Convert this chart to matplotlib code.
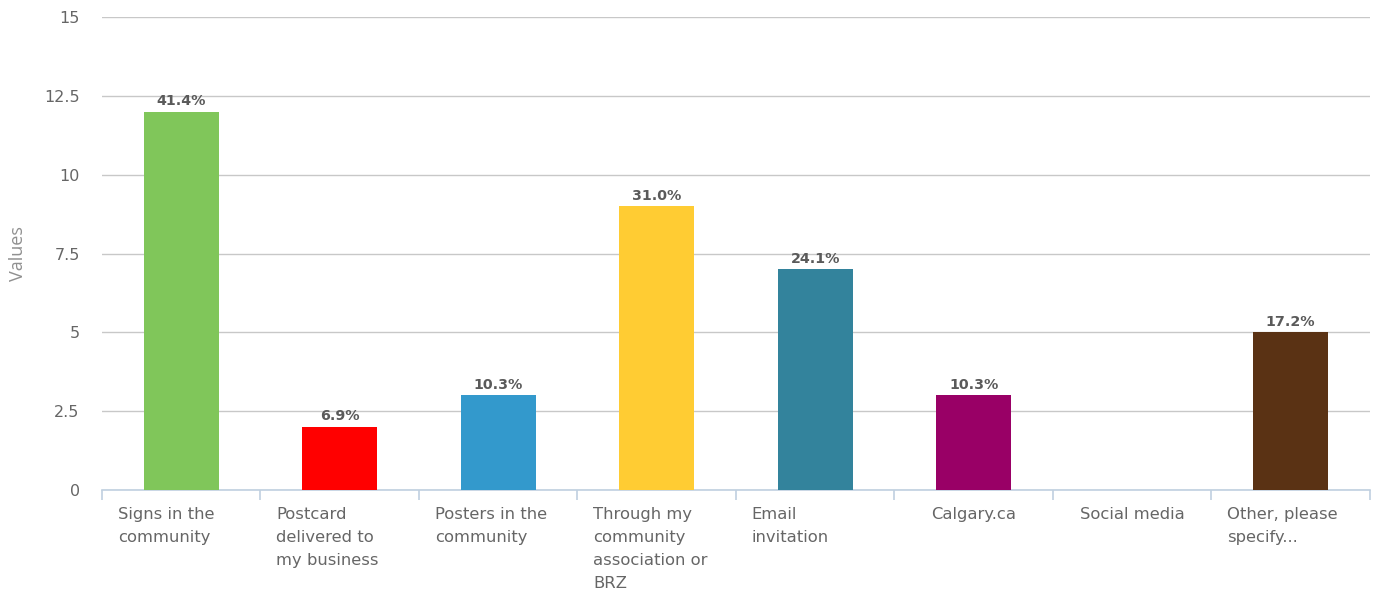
import numpy as np
import matplotlib.pyplot as plt

# ============================================================
# DATA
# ============================================================

categories = [
    "Signs in the\ncommunity",
    "Postcard\ndelivered to\nmy business",
    "Posters in the\ncommunity",
    "Through my\ncommunity\nassociation or\nBRZ",
    "Email\ninvitation",
    "Calgary.ca",
    "Social media",
    "Other, please\nspecify...",
]
values = [12, 2, 3, 9, 7, 3, 0, 5]
percent_labels = ["41.4%", "6.9%", "10.3%", "31.0%", "24.1%", "10.3%", "", "17.2%"]
bar_colors = ["#80c65a", "#ff0000", "#3399cc", "#ffcc33", "#33839c", "#990066", "#cccccc", "#5a3214"]
y_ticks = [0, 2.5, 5, 7.5, 10, 12.5, 15]
y_tick_labels = ["0", "2.5", "5", "7.5", "10", "12.5", "15"]

# ============================================================
# PLOT
# ============================================================

plt.rcParams["font.family"] = ["DejaVu Sans"]

fig = plt.figure(figsize=(13.76, 5.97), dpi=100)
ax = fig.add_axes([0.0741, 0.1792, 0.9215, 0.7923])

x = np.arange(len(categories))
ax.bar(x, values, width=0.475, color=bar_colors, zorder=3)

# percent labels above bars
for xi, v, lab in zip(x, values, percent_labels):
    if lab:
        ax.annotate(lab, xy=(xi, v), xytext=(0, 2.5), textcoords="offset points",
                    ha="center", va="bottom", fontsize=10.3, fontweight="bold",
                    color="#5a5a5a", zorder=4)

ax.set_xlim(-0.5, len(categories) - 0.5)
ax.set_ylim(0, 15)

ax.set_yticks(y_ticks)
ax.set_yticklabels(y_tick_labels)
ax.yaxis.grid(True, color="#c8c8c8", linewidth=1)
ax.tick_params(axis="y", length=0, pad=16, labelsize=11.5, labelcolor="#666666")

# category boundary ticks
ax.set_xticks(np.arange(len(categories) + 1) - 0.5)
ax.set_xticklabels([])
ax.tick_params(axis="x", length=7.5, width=1.2, color="#c0d0e0", direction="out")

# category labels
for xi, cat in zip(x, categories):
    if "\n" in cat:
        ax.annotate(cat, xy=(xi - 0.40, 0), xycoords=("data", "axes fraction"),
                    xytext=(0, -12.5), textcoords="offset points",
                    ha="left", va="top", fontsize=11.8, color="#666666",
                    linespacing=1.65)
    else:
        ax.annotate(cat, xy=(xi, 0), xycoords=("data", "axes fraction"),
                    xytext=(0, -12.5), textcoords="offset points",
                    ha="center", va="top", fontsize=11.8, color="#666666")

for side in ["top", "right", "left"]:
    ax.spines[side].set_visible(False)
ax.spines["bottom"].set_color("#c0d0e0")
ax.spines["bottom"].set_linewidth(1.2)
ax.set_axisbelow(True)

ax.set_ylabel("Values", fontsize=13, color="#909090", labelpad=12,
              family=["Open Sans", "DejaVu Sans"])

fig.savefig("out.png", dpi=100)
